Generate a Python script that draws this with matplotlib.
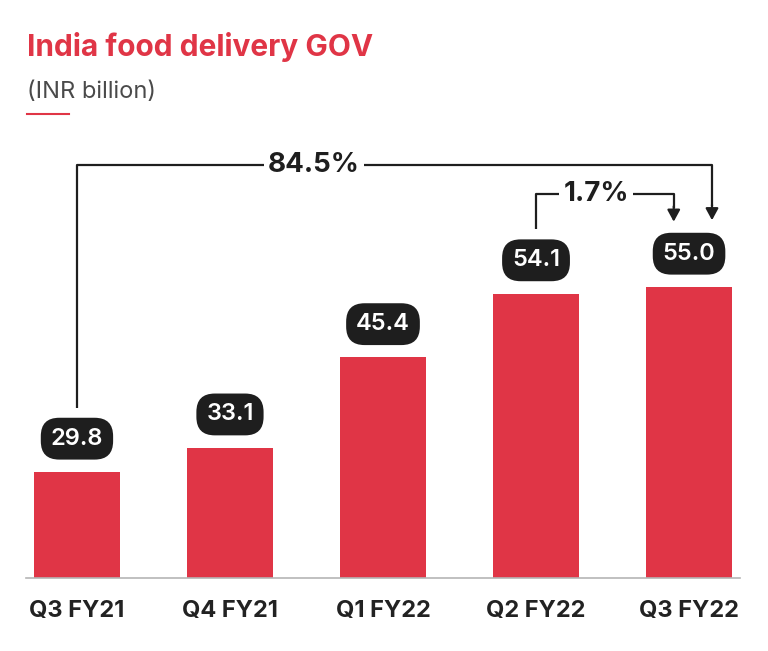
import matplotlib
matplotlib.use("Agg")
import matplotlib.pyplot as plt
from matplotlib.lines import Line2D

plt.rcParams['font.family'] = ['Inter', 'DejaVu Sans']

# data
quarters = ['Q3 FY21', 'Q4 FY21', 'Q1 FY22', 'Q2 FY22', 'Q3 FY22']
gov = [29.8, 33.1, 45.4, 54.1, 55.0]
growth_total = '84.5%'
growth_qoq = '1.7%'

red = '#e03546'
dark = '#1e1e1e'

fig = plt.figure(figsize=(7.68, 6.51), dpi=100)
ax = fig.add_axes([26/768, 73/651, 714/768, 438/651])

x = range(len(quarters))
ax.bar(x, gov, width=0.56, color=red, bottom=0)
ax.set_xlim(-0.333, 4.333)
ax.set_ylim(15.36, 75.03)

for s in ['top', 'right', 'left']:
    ax.spines[s].set_visible(False)
ax.spines['bottom'].set_color('#b5b5b5')
ax.spines['bottom'].set_linewidth(1.2)
ax.set_yticks([])
ax.set_xticks(list(x))
ax.set_xticklabels(quarters, fontsize=17, fontweight='bold', color='#222222')
ax.tick_params(axis='x', length=0, pad=16)

# value pills
for i, v in enumerate(gov):
    ax.annotate(f'{v:.1f}', xy=(i, v), xytext=(0, 24), textcoords='offset points',
                ha='center', va='center', fontsize=17, fontweight='semibold', color='white',
                bbox=dict(boxstyle='round,pad=0.42,rounding_size=0.78', fc=dark, ec='none'))

# growth brackets
lw = 1.6
# 84.5% : Q3 FY21 -> Q3 FY22
y0 = gov[0] + 8.7
ytop = gov[4] + 16.6
xr = 4.15
ax.plot([0, 0, xr, xr], [y0, ytop, ytop, gov[4] + 11.0], color=dark, lw=lw, solid_capstyle='butt')
ax.annotate('', xy=(xr, gov[4] + 9.1), xytext=(xr, gov[4] + 11.2),
            arrowprops=dict(arrowstyle='-|>,head_length=0.7,head_width=0.38', color=dark, lw=lw,
                            shrinkA=0, shrinkB=0))
ax.text(1.548, ytop, growth_total, ha='center', va='center', fontsize=20, fontweight='bold',
        color=dark, bbox=dict(boxstyle='square,pad=0.15', fc='white', ec='none'))

# 1.7% : Q2 FY22 -> Q3 FY22
y0s = gov[3] + 8.8
ytops = gov[4] + 12.7
xs = 3.9
ax.plot([3, 3, xs, xs], [y0s, ytops, ytops, gov[4] + 10.8], color=dark, lw=lw, solid_capstyle='butt')
ax.annotate('', xy=(xs, gov[4] + 8.9), xytext=(xs, gov[4] + 11.0),
            arrowprops=dict(arrowstyle='-|>,head_length=0.7,head_width=0.38', color=dark, lw=lw,
                            shrinkA=0, shrinkB=0))
ax.text(3.392, ytops, growth_qoq, ha='center', va='center', fontsize=20, fontweight='bold',
        color=dark, bbox=dict(boxstyle='square,pad=0.15', fc='white', ec='none'))

# titles
fig.text(27/768, 1 - 56/651, 'India food delivery GOV', fontsize=21.5, fontweight='bold',
         color=red, ha='left', va='baseline')
fig.text(27/768, 1 - 98/651, '(INR billion)', fontsize=17, color='#4a4a4a',
         ha='left', va='baseline')
fig.add_artist(Line2D([27/768, 69/768], [1 - 114/651, 1 - 114/651], color=red, lw=1.5))

fig.savefig('out.png', dpi=100)
